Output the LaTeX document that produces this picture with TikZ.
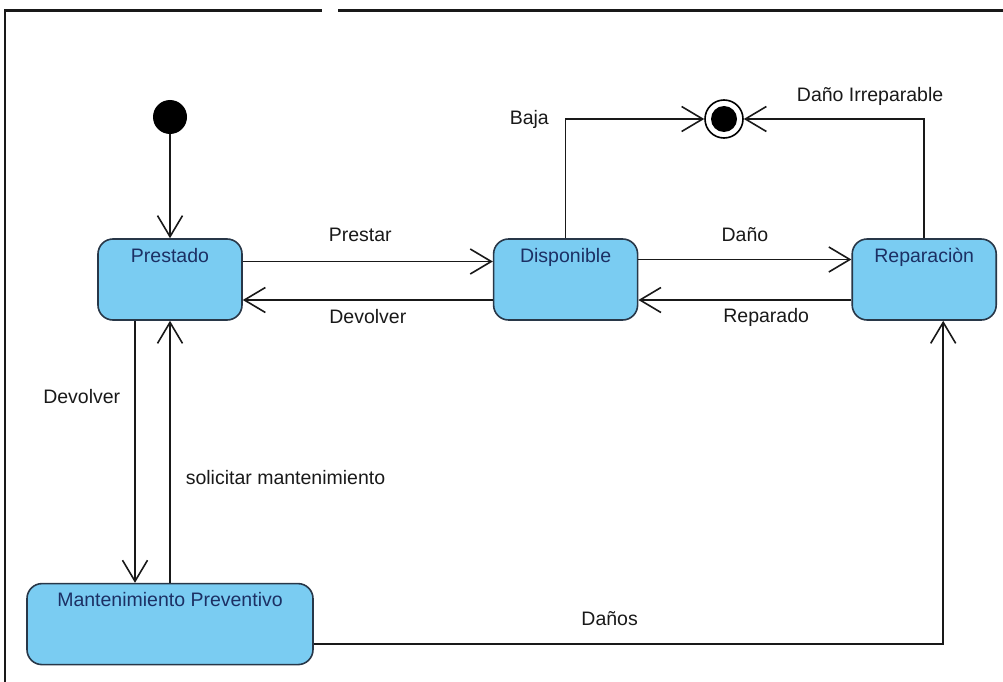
\documentclass[tikz,border=0pt]{standalone}
\usepackage{fontspec}
\setmainfont{Liberation Sans}
\usepackage{xcolor}
\usetikzlibrary{arrows.meta, positioning, calc}

\definecolor{statefill}{RGB}{122,204,242}
\definecolor{stateborder}{RGB}{40,55,72}
\definecolor{statetext}{RGB}{28,48,100}
\newcommand{\diagfont}{\fontsize{19.5}{23}\selectfont}

\begin{document}
\begin{tikzpicture}[
    x=1pt, y=-1pt,
    state/.style={rectangle, rounded corners=15pt, draw=stateborder, line width=1.6pt, fill=statefill, text=statetext, minimum width=144pt, align=center, text height=17pt, text depth=52pt, inner xsep=4pt, inner ysep=6pt, font=\diagfont},
    initial/.style={circle, fill=black, minimum size=34pt, inner sep=0pt},
    final/.style={circle, draw=black, line width=1.6pt, minimum size=38pt, inner sep=0pt, path picture={\fill[black] (path picture bounding box.center) circle (13pt);}},
    arrow/.style={line width=1.6pt, draw=black!90, -{Straight Barb[length=21pt,width=25pt]}},
    lbl/.style={font=\diagfont, text=black!90, inner sep=0pt},
    frame/.style={line width=2.2pt, draw=black!90}
]
\useasboundingbox (0,0) rectangle (1003,682);

% Frame
\draw[frame] (5,682) -- (5,10.5) -- (322,10.5);
\draw[frame] (338,10.5) -- (1003,10.5);

% States
\node[state] (prestado) at (170,279.5) {Prestado};
\node[state, right=250pt of prestado] (disponible) {Disponible};
\node[state, right=213pt of disponible] (reparacion) {Reparaciòn};
\node[state, minimum width=286pt, below=262pt of prestado] (mantenimiento) {Mantenimiento Preventivo};

% Initial and final
\node[initial, above=104pt of prestado] (inicio) {};
\node[final] (fin) at (724,119) {};

% Transitions
\draw[arrow] (inicio) -- (prestado);
\draw[arrow] ([yshift=18pt]prestado.east) -- node[lbl, above=19pt, pos=0.47] {Prestar} ([yshift=18pt]disponible.west);
\draw[arrow] ([yshift=-20.5pt]disponible.west) -- node[lbl, below=9pt] {Devolver} ([yshift=-20.5pt]prestado.east);
\draw[arrow] ([yshift=20pt]disponible.east) -- node[lbl, above=17pt, pos=0.5] {Daño} ([yshift=20pt]reparacion.west);
\draw[arrow] ([yshift=-20.5pt]reparacion.west) -- node[lbl, below=8pt, pos=0.4] {Reparado} ([yshift=-20.5pt]disponible.east);
\draw[arrow] (disponible.north) |- node[lbl, left=16pt, pos=0.5] {Baja} (fin);
\draw[arrow] (reparacion.north) |- node[lbl, above=13pt, pos=0.65] {Daño Irreparable} (fin);
\draw[arrow] ([xshift=-35pt]prestado.south) -- node[lbl, left=14pt, pos=0.29] {Devolver} ([xshift=-35pt]mantenimiento.north);
\draw[arrow] (mantenimiento.north) -- node[lbl, right=15pt, pos=0.4] {solicitar mantenimiento} (prestado.south);
\draw[arrow] ([yshift=-20pt]mantenimiento.east) -| node[lbl, above=18pt, pos=0.235] {Daños} ([xshift=19pt]reparacion.south);

\end{tikzpicture}
\end{document}
